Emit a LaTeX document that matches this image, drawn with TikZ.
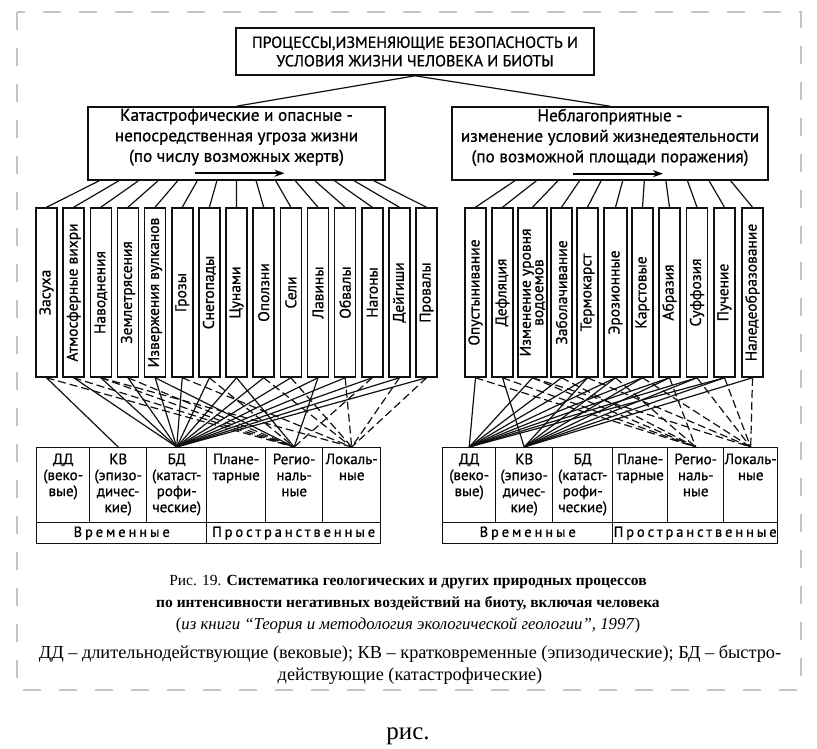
\documentclass[tikz,border=0pt]{standalone}
\usepackage{fontspec}
\setmainfont{Liberation Serif}
\newfontfamily\diagfont[FakeBold=0.9]{PT Sans}
\usetikzlibrary{arrows.meta,positioning,calc}
\definecolor{inkblack}{HTML}{111111}
\definecolor{scangray}{HTML}{C4C4C4}

\begin{document}
\begin{tikzpicture}[
  x=1pt, y=-1pt,
  >=Stealth,
  line width=1.2pt,
  headbox/.style={draw=inkblack, line width=1.6pt, align=center, minimum width=358, minimum height=47,
    inner sep=0pt, font=\diagfont\fontsize{16}{18.5}\selectfont},
  groupbox/.style={draw=inkblack, line width=1.6pt, minimum height=73, inner sep=0pt},
  grouptext/.style={align=center, inner sep=0pt, font=\diagfont\fontsize{17.2}{20.5}\selectfont},
  procbox/.style={draw=inkblack, line width=1.5pt, rotate=90, minimum width=169, minimum height=21,
    inner sep=0pt, align=center, font=\diagfont\fontsize{15.5}{12.5}\selectfont},
  cellbox/.style={draw=inkblack, line width=1.4pt, anchor=north west, minimum height=75, inner sep=0pt},
  celltext/.style={align=center, inner sep=0pt, font=\diagfont\fontsize{15}{16}\selectfont},
  rowbox/.style={draw=inkblack, line width=1.4pt, anchor=north west, minimum height=21, inner sep=0pt,
    font=\diagfont\fontsize{14.5}{16}\selectfont\addfontfeatures{LetterSpace=20}},
  link/.style={draw=inkblack, line width=1.2pt},
  dlink/.style={link, dash pattern=on 8pt off 4pt},
  textarrow/.style={-{Stealth[length=10pt,width=7pt]}, line width=2pt},
  caption/.style={align=center, inner sep=0pt, font=\fontsize{15.5}{22}\selectfont}
]
  \useasboundingbox (0,0) rectangle (817,748);
  \draw[scangray, line width=2pt, dash pattern=on 18pt off 18pt] (17,12) rectangle (801,690);

  \node[headbox] (top) at (415,51.5) {ПРОЦЕССЫ,ИЗМЕНЯЮЩИЕ БЕЗОПАСНОСТЬ И\\УСЛОВИЯ ЖИЗНИ ЧЕЛОВЕКА И БИОТЫ};

  \node[groupbox, minimum width=297] (catl) at (236.5,143.5) {};
  \node[grouptext, below=2pt of catl.north] (catltxt) {Катастрофические и опасные -\\непосредственная угроза жизни\\(по числу возможных жертв)};
  \draw[textarrow] ([xshift=-42pt,yshift=-7pt]catltxt.south) -- ++(90,0);

  \node[groupbox, minimum width=316] (catr) at (610,143.5) {};
  \node[grouptext, below=2pt of catr.north] (catrtxt) {Неблагоприятные -\\изменение условий жизнедеятельности\\(по возможной площади поражения)};
  \draw[textarrow] ([xshift=-37pt,yshift=-7pt]catrtxt.south) -- ++(90,0);

  \draw[link] (top.south) -- (catl.north);
  \draw[link] (top.south) -- (catr.north);

  \foreach \name [count=\i] in {Засуха, Атмосферные вихри, Наводнения, Землетрясения, Извержения вулканов,
      Грозы, Снегопады, Цунами, Оползни, Сели, Лавины, Обвалы, Нагоны, Дейгиши, Провалы} {
    \node[procbox] (l\i) at ({46.5+27.15*(\i-1)},292.5) {\name};
    \pgfmathsetmacro\t{0.04+0.92*(\i-1)/14}
    \draw[link] ($(catl.south west)!\t!(catl.south east)$) -- (l\i.east);
  }

  \foreach \xx/\ww/\name [count=\i] in {475.5/21/Опустынивание, 502.5/21/Дефляция,
      532.5/29/{Изменение уровня\\водоемов}, 561.5/21/Заболачивание, 587.5/21/Термокарст,
      615.5/23/Эрозионные, 642.5/21/Карстовые, 669.5/21/Абразия, 697/21/Суффозия,
      724.5/21/Пучение, 752.5/21/Наледеобразование} {
    \node[procbox, minimum height=\ww] (r\i) at (\xx,292.5) {\name};
    \pgfmathsetmacro\t{0.2+0.68*(\i-1)/10}
    \draw[link] ($(catr.south west)!\t!(catr.south east)$) -- (r\i.east);
  }

  \foreach \xx/\ww/\nm/\txt in {36/53/ldd/{ДД\\(веко-\\вые)}, 89/57/lkv/{КВ\\(эпизо-\\дичес-\\кие)},
      146/60/lbd/{БД\\(катаст-\\рофи-\\ческие)}, 206/59/lpl/{Плане-\\тарные},
      265/57/lre/{Регио-\\наль-\\ные}, 322/58/llo/{Локаль-\\ные},
      442/53/rdd/{ДД\\(веко-\\вые)}, 495/57/rkv/{КВ\\(эпизо-\\дичес-\\кие)},
      552/60/rbd/{БД\\(катаст-\\рофи-\\ческие)}, 612/55/rpl/{Плане-\\тарные},
      667/56/rre/{Регио-\\наль-\\ные}, 723/54/rlo/{Локаль-\\ные}} {
    \node[cellbox, minimum width=\ww] (\nm) at (\xx,447) {};
    \node[celltext, below=6pt of \nm.north] (\nm-t) {\txt};
  }

  \node[rowbox, minimum width=170] (ltime) at (36,522) {Временные};
  \node[rowbox, minimum width=174] (lspace) at (206,522) {Пространственные};
  \node[rowbox, minimum width=170] (rtime) at (442,522) {Временные};
  \node[rowbox, minimum width=165] (rspace) at (612,522) {Пространственные};

  \foreach \src/\dst in {l1/lkv, l2/lbd, l3/lbd, l4/lbd, l5/lbd, l6/lbd, l7/lbd, l8/lbd, l9/lbd,
      l10/lbd, l11/lbd, l12/lbd, l13/lbd, l14/lbd, l15/lbd, l5/lre, l8/lre, l11/lre,
      r1/rdd, r2/rkv, r3/rdd, r4/rdd, r5/rdd, r5/rkv, r6/rdd, r6/rkv, r7/rdd, r7/rkv,
      r8/rdd, r8/rkv, r9/rdd, r9/rkv, r10/rdd, r10/rkv, r11/rkv}
    \draw[link] (\src.west) -- (\dst.north);

  \foreach \src/\dst in {l1/lre, l2/lre, l3/lre, l4/lre, l7/lre, l13/lre, l6/llo, l9/llo,
      l10/llo, l12/llo, l14/llo, l15/llo, l3/llo,
      r1/rre, r2/rre, r3/rre, r4/rre, r6/rre, r8/rre, r5/rlo, r7/rlo, r9/rlo, r10/rlo,
      r11/rlo, r3/rlo}
    \draw[dlink] (\src.west) -- (\dst.north);

  \node[caption] (cap) at (408,604) {Рис. 19. \textbf{Систематика геологических и других природных процессов}\\
    \textbf{по интенсивности негативных воздействий на биоту, включая человека}\\
    {\fontsize{16.8}{22}\selectfont(\textit{из книги “Теория и методология экологической геологии”, 1997})}};
  \node[caption, font=\fontsize{18.3}{22}\selectfont] (legend) at (410,665) {ДД – длительнодействующие (вековые); КВ – кратковременные (эпизодические); БД – быстро-\\
    действующие (катастрофические)};
  \node[caption, font=\fontsize{25}{28}\selectfont] (fig) at (408,736) {рис.};
\end{tikzpicture}
\end{document}
